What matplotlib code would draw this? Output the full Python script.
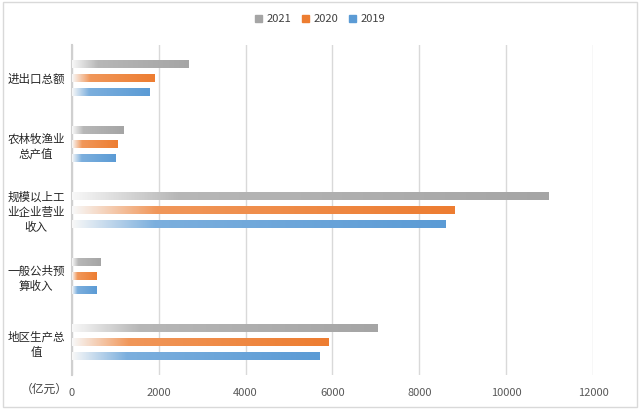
import matplotlib.pyplot as plt
import matplotlib.patches as mpatches
import numpy as np

plt.rcParams['font.family'] = ['Noto Sans CJK SC', 'DejaVu Sans']

categories = ['地区生产总\n值', '一般公共预\n算收入', '规模以上工\n业企业营业\n收入', '农林牧渔业\n总产值', '进出口总额']
years = ['2021', '2020', '2019']
v2021 = [7030, 660, 10960, 1180, 2670]
v2020 = [5900, 570, 8790, 1050, 1900]
v2019 = [5700, 575, 8600, 1000, 1790]
colors = ['#A5A5A5', '#ED7D31', '#5B9BD5']
xticks = [0, 2000, 4000, 6000, 8000, 10000, 12000]

fig = plt.figure(figsize=(6.4, 4.09), dpi=100)
ax = fig.add_axes([0.112, 0.083, 0.815, 0.807])

# chart area border
fig.patches.append(mpatches.Rectangle((0.005, 0.005), 0.99, 0.99, transform=fig.transFigure,
                                      fill=False, edgecolor='#D9D9D9', linewidth=1))


def grad_bar(ax, y, v, h, color):
    patch = ax.barh(y, v, height=h, color='none', edgecolor='none')[0]
    c = np.array(plt.matplotlib.colors.to_rgb(color))
    t = np.linspace(0, 1, 200)
    light = 0.8 * c + 0.2
    rows = []
    for ti in t:
        if ti < 0.22:
            a = ti / 0.22
            rows.append((1 - a) * np.ones(3) * 0.97 + a * light)
        else:
            a = (ti - 0.22) / 0.78
            rows.append((1 - a) * light + a * c)
    img = np.array(rows)[None, :, :]
    im = ax.imshow(img, extent=(0, v, y - h / 2, y + h / 2), aspect='auto',
                   interpolation='bilinear', zorder=3)
    im.set_clip_path(patch)


y = np.arange(len(categories))
h = 0.125
offsets = [0.21, 0.0, -0.21]
for vals, off, col in zip([v2021, v2020, v2019], offsets, colors):
    for yi, v in zip(y, vals):
        grad_bar(ax, yi + off, v, h, col)

ax.set_xlim(0, 12000)
ax.set_ylim(-0.5, 4.5)
ax.set_xticks(xticks)
ax.set_xticklabels([str(x) for x in xticks])
ax.set_yticks(y)
ax.set_yticklabels(categories, multialignment='center')
ax.tick_params(axis='x', length=0, pad=9, labelsize=8, labelcolor='#595959')
ax.tick_params(axis='y', length=0, pad=5, labelsize=8.3, labelcolor='#262626')
ax.grid(axis='x', color='#D9D9D9', linewidth=1, zorder=0)
ax.set_axisbelow(True)
for s in ['top', 'right', 'bottom']:
    ax.spines[s].set_visible(False)
ax.spines['left'].set_color('#D0D0D0')
ax.spines['left'].set_linewidth(1.5)

fig.text(0.106, 0.047, '（亿元）', ha='right', va='center', fontsize=8.5, color='#404040')

handles = [mpatches.Patch(color=c, label=l) for c, l in zip(colors, years)]
fig.legend(handles=handles, loc='center', bbox_to_anchor=(0.5, 0.953), ncol=3, frameon=False,
           fontsize=8, labelcolor='#404040', handlelength=0.6, handleheight=0.6,
           handletextpad=0.4, columnspacing=1.0)

fig.savefig('out.png', dpi=100)
